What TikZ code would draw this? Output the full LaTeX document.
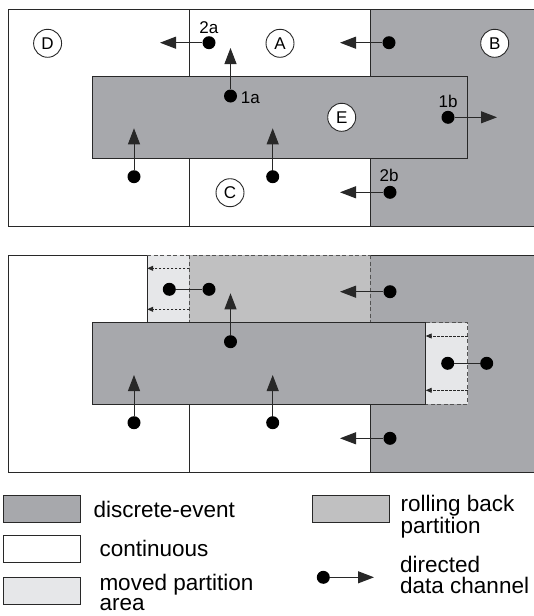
\documentclass[tikz,border=0pt]{standalone}
\usepackage{fontspec}
\setmainfont{Liberation Sans}
\usetikzlibrary{arrows.meta}
\definecolor{discrete}{RGB}{167,168,172}
\definecolor{rollback}{RGB}{192,192,193}
\definecolor{moved}{RGB}{230,231,233}
\definecolor{ink}{RGB}{40,40,40}
\tikzset{
  border/.style={draw=ink,line width=1pt},
  dashedge/.style={draw=ink!80,line width=0.9pt,dash pattern=on 4pt off 2.5pt},
  dot/.style={circle,fill=black,minimum size=13pt,inner sep=0pt},
  chan/.style={draw=ink,line width=1pt,-{Triangle[length=16pt,width=12pt]}},
  link/.style={draw=ink,line width=1pt},
  movearrow/.style={draw=ink,line width=0.9pt,dash pattern=on 2.5pt off 1.5pt,-{Triangle[length=6pt,width=5pt]}},
  region/.style={circle,draw=ink,line width=0.9pt,fill=white,minimum size=28pt,inner sep=0pt,font=\fontsize{17pt}{17pt}\selectfont},
  tag/.style={inner sep=0pt,font=\fontsize{17pt}{17pt}\selectfont},
  keybox/.style={draw=ink,line width=1pt,anchor=north west,minimum width=77pt,minimum height=27pt,inner sep=0pt},
  % base anchor of a two-line key text sits on its last line
  keytext/.style={inner sep=0pt,anchor=base west,align=left,font=\fontsize{22.5pt}{20.5pt}\selectfont},
}
\begin{document}
\begin{tikzpicture}[x=1pt,y=-1pt]
\useasboundingbox (0,0) rectangle (533,616);

% ---------------- upper panel: initial partitioning ----------------
\fill[white] (8.5,9.3) rectangle (534,226);
\path[fill=discrete,border] (370,9.3) rectangle (534,226);
\draw[border] (8.5,9.3) rectangle (534,226);
\draw[border] (189.4,9.3) -- (189.4,226);
\path[fill=discrete,border] (92,76.7) rectangle (467.5,158);

\node[region] (D) at (47.6,43.3) {D};
\node[region] (A) at (280,43.3) {A};
\node[region] (B) at (494.7,43.3) {B};
\node[region] (E) at (341.7,117.3) {E};
\node[region] (C) at (230,192.7) {C};

\node[dot] (p2a) at (209,42.7) {};
\coordinate (t2a) at (160,42.7);
\draw[chan] (p2a) -- (t2a);
\node[tag] (l2a) at (208.8,27.3) {2a};

\node[dot] (pBA) at (389,42.7) {};
\coordinate (tBA) at (340,42.7);
\draw[chan] (pBA) -- (tBA);

\node[dot] (p1a) at (230.5,96) {};
\coordinate (t1a) at (230.5,48);
\draw[chan] (p1a) -- (t1a);
\node[tag] (l1a) at (250.3,97.8) {1a};

\node[dot] (p1b) at (448,117.3) {};
\coordinate (t1b) at (497,117.3);
\draw[chan] (p1b) -- (t1b);
\node[tag] (l1b) at (448,101.5) {1b};

\node[dot] (pDE) at (134,176.7) {};
\coordinate (tDE) at (134,128.3);
\draw[chan] (pDE) -- (tDE);

\node[dot] (pCE) at (272.7,176.7) {};
\coordinate (tCE) at (272.7,128.3);
\draw[chan] (pCE) -- (tCE);

\node[dot] (p2b) at (390,192.3) {};
\coordinate (t2b) at (340,192.3);
\draw[chan] (p2b) -- (t2b);
\node[tag] (l2b) at (389,175.2) {2b};

% ---------------- lower panel: after repartitioning ----------------
\fill[white] (8.5,255) rectangle (534,472);
\fill[discrete] (370,255) rectangle (534,472);
\fill[rollback] (189.4,255) rectangle (370,322.7);
\fill[moved] (147.2,255) rectangle (189.4,322.7);
\fill[moved] (425.7,322.7) rectangle (467.5,404);

% outer frame
\draw[border] (147.2,255) -- (8.5,255) -- (8.5,472) -- (534,472);
\draw[border] (370,255) -- (534,255);
\draw[border] (147.2,255) -- (147.2,322.7);
\draw[border] (189.4,404) -- (189.4,472);
\draw[border] (370,404) -- (370,472);

% dashed outlines of the moved and rolled-back areas
\draw[dashedge] (147.2,255) -- (370,255);
\draw[dashedge] (189.4,255) -- (189.4,322.7);
\draw[dashedge] (370,255) -- (370,322.7);
\draw[dashedge] (425.7,322.7) -- (467.5,322.7) -- (467.5,404) -- (425.7,404);

\path[fill=discrete,border] (92,322.7) rectangle (425.7,404);

% shifted boundaries
\coordinate (s1a) at (189.4,268.3);
\coordinate (s1b) at (147.2,268.3);
\draw[movearrow] (s1a) -- (s1b);
\coordinate (s2a) at (189.4,309.3);
\coordinate (s2b) at (147.2,309.3);
\draw[movearrow] (s2a) -- (s2b);
\coordinate (s3a) at (467.5,336);
\coordinate (s3b) at (425.7,336);
\draw[movearrow] (s3a) -- (s3b);
\coordinate (s4a) at (467.5,390.3);
\coordinate (s4b) at (425.7,390.3);
\draw[movearrow] (s4a) -- (s4b);

% channels now internal to one partition
\node[dot] (m1) at (169.3,289.3) {};
\node[dot] (m2) at (209,289.3) {};
\draw[link] (m1) -- (m2);
\node[dot] (m3) at (447.7,363.3) {};
\node[dot] (m4) at (486.7,363.3) {};
\draw[link] (m3) -- (m4);

\node[dot] (qBA) at (390,291.7) {};
\coordinate (uBA) at (340,291.7);
\draw[chan] (qBA) -- (uBA);

\node[dot] (qEA) at (230.5,341.7) {};
\coordinate (uEA) at (230.5,293.3);
\draw[chan] (qEA) -- (uEA);

\node[dot] (qDE) at (134,422.7) {};
\coordinate (uDE) at (134,375);
\draw[chan] (qDE) -- (uDE);

\node[dot] (qCE) at (272.7,422.7) {};
\coordinate (uCE) at (272.7,375);
\draw[chan] (qCE) -- (uCE);

\node[dot] (qBC) at (390,438.3) {};
\coordinate (uBC) at (340,438.3);
\draw[chan] (qBC) -- (uBC);

% ---------------- legend ----------------
\node[keybox,fill=discrete] (k1) at (3.4,495) {};
\node[keytext] (k1t) at (93.5,517) {discrete-event};
\node[keybox,fill=white] (k2) at (3.4,535) {};
\node[keytext] (k2t) at (99.3,556) {continuous};
\node[keybox,fill=moved] (k3) at (3.4,576.7) {};
\node[keytext] (k3t) at (99.3,610.7) {moved partition\\area};
\node[keybox,fill=rollback] (k4) at (311.7,495) {};
\node[keytext] (k4t) at (400.5,533.3) {rolling back\\partition};
\node[dot] (k5) at (323.3,577.3) {};
\coordinate (k5e) at (374,577.3);
\draw[chan] (k5) -- (k5e);
\node[keytext] (k5t) at (400,593.3) {directed\\data channel};
\end{tikzpicture}
\end{document}
